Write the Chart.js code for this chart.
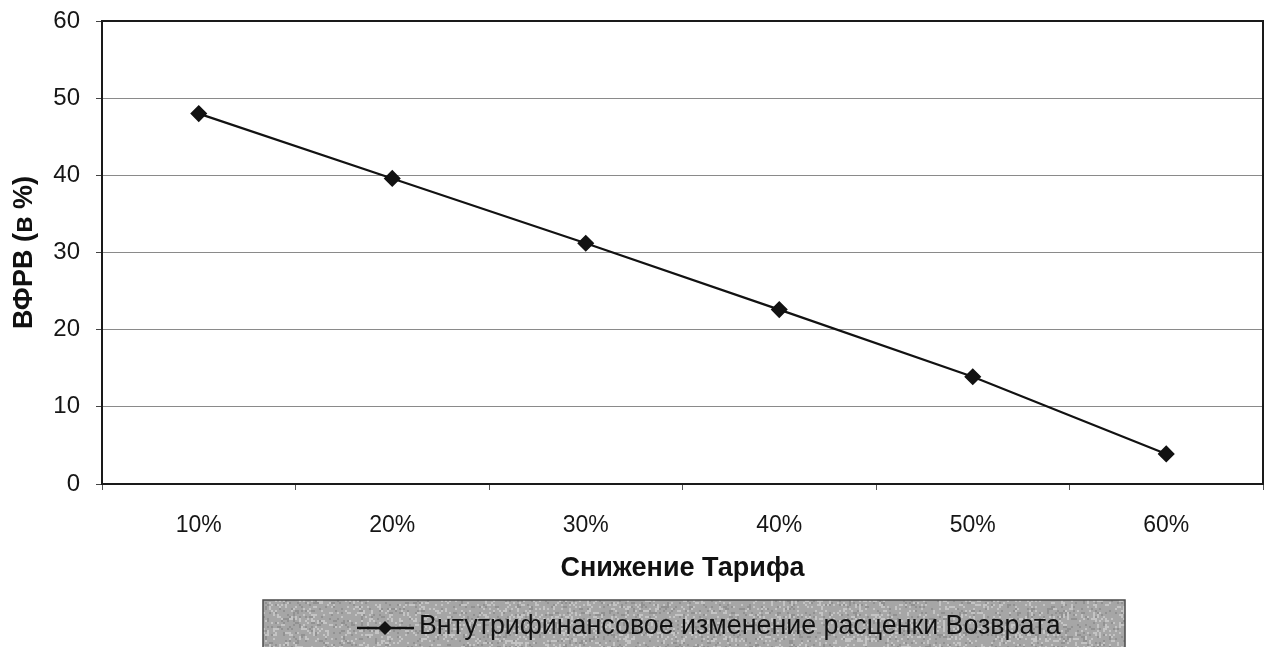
<!DOCTYPE html>
<html lang="ru">
<head>
<meta charset="utf-8">
<title>ВФРВ и снижение тарифа</title>
<script src="https://cdn.jsdelivr.net/npm/chart.js@4.4.1/dist/chart.umd.min.js"></script>
<style>
  html, body { margin: 0; padding: 0; background: #ffffff; }
  canvas { display: block; }
</style>
</head>
<body>
<canvas id="chart" width="1265" height="647"></canvas>
<script>
// Tariff reduction steps (x axis) and the resulting IRR change (y axis, %)
const categories = ['10%', '20%', '30%', '40%', '50%', '60%'];
const returnValues = [48.0, 39.6, 31.2, 22.6, 13.9, 3.9];
const seriesLabel = 'Внтутрифинансовое изменение расценки Возврата';
const xTitle = 'Снижение Тарифа';
const yTitle = 'ВФРВ (в %)';
const yMin = 0, yMax = 60, yStep = 10;

const FONT = '"Liberation Sans", Arial, sans-serif';
const INK = '#121212';

// Closed frame around the plotting area
const plotFrame = {
  id: 'plotFrame',
  beforeDatasetsDraw(chart) {
    const { ctx, chartArea: a } = chart;
    ctx.save();
    ctx.strokeStyle = '#1a1a1a';
    ctx.lineWidth = 2;
    ctx.strokeRect(a.left, a.top, a.right - a.left, a.bottom - a.top);
    ctx.restore();
  }
};

// Fine speckle for the grey legend panel (deterministic hash, no randomness)
function speckle(ix, iy) {
  let h = (ix * 374761393 + iy * 668265263) | 0;
  h = (h ^ (h >>> 13)) * 1274126177 | 0;
  return ((h ^ (h >>> 16)) >>> 0) / 4294967295;
}

// Boxed legend on a grey panel: line sample with a diamond, then the series name
const boxedLegend = {
  id: 'boxedLegend',
  afterDraw(chart) {
    const { ctx } = chart;
    const ds = chart.data.datasets[0];
    const box = { x: 263, y: 600, w: 862, h: 50 };
    ctx.save();
    ctx.fillStyle = '#a6a6a6';
    ctx.fillRect(box.x, box.y, box.w, box.h);
    for (let yy = box.y; yy < box.y + box.h; yy += 2) {
      for (let xx = box.x; xx < box.x + box.w; xx += 2) {
        const v = speckle(xx, yy);
        if (v > 0.82) {
          ctx.fillStyle = 'rgba(220,220,220,0.55)';
          ctx.fillRect(xx, yy, 2, 2);
        } else if (v < 0.12) {
          ctx.fillStyle = 'rgba(120,120,120,0.45)';
          ctx.fillRect(xx, yy, 2, 2);
        }
      }
    }
    ctx.strokeStyle = '#4a4a4a';
    ctx.lineWidth = 1.5;
    ctx.strokeRect(box.x, box.y, box.w, box.h);

    const cy = 628;
    ctx.strokeStyle = ds.borderColor;
    ctx.lineWidth = 2.5;
    ctx.beginPath();
    ctx.moveTo(357, cy);
    ctx.lineTo(414, cy);
    ctx.stroke();
    ctx.fillStyle = ds.pointBackgroundColor;
    const r = 7;
    ctx.beginPath();
    ctx.moveTo(385, cy - r);
    ctx.lineTo(385 + r, cy);
    ctx.lineTo(385, cy + r);
    ctx.lineTo(385 - r, cy);
    ctx.closePath();
    ctx.fill();

    ctx.fillStyle = '#111111';
    ctx.font = '26.8px ' + FONT;
    ctx.textBaseline = 'middle';
    ctx.textAlign = 'left';
    ctx.fillText(ds.label, 419, cy - 1);
    ctx.restore();
  }
};

new Chart(document.getElementById('chart'), {
  type: 'line',
  data: {
    labels: categories,
    datasets: [{
      label: seriesLabel,
      data: returnValues,
      borderColor: INK,
      borderWidth: 2.2,
      pointStyle: 'rectRot',
      pointRadius: 7.5,
      pointHoverRadius: 7.5,
      pointBackgroundColor: INK,
      pointBorderColor: INK,
      pointBorderWidth: 1.5,
      tension: 0,
      fill: false
    }]
  },
  options: {
    responsive: false,
    animation: false,
    events: [],
    layout: { autoPadding: false, padding: { top: 21, right: 2, bottom: 57, left: 0 } },
    plugins: {
      legend: { display: false },
      tooltip: { enabled: false },
      title: { display: false }
    },
    scales: {
      x: {
        type: 'category',
        offset: true,
        afterFit(scale) {
          scale.height = 106;
          scale.paddingLeft = 0;
          scale.paddingRight = 0;
        },
        grid: {
          offset: true,
          drawOnChartArea: false,
          drawTicks: true,
          tickLength: 6,
          tickColor: '#555555',
          tickWidth: 1
        },
        border: { display: true, color: '#1a1a1a', width: 2 },
        ticks: {
          color: '#161616',
          padding: 22,
          font: { family: FONT, size: 23 },
          maxRotation: 0
        },
        title: {
          display: true,
          text: xTitle,
          color: '#111111',
          font: { family: FONT, size: 27, weight: 'bold' },
          padding: { top: 0, bottom: 5 }
        }
      },
      y: {
        min: yMin,
        max: yMax,
        afterFit(scale) {
          scale.width = 102;
          scale.paddingTop = 0;
          scale.paddingBottom = 0;
        },
        grid: {
          color: '#8a8a8a',
          lineWidth: 1,
          drawTicks: true,
          tickLength: 6,
          tickColor: '#444444'
        },
        border: { display: true, color: '#1a1a1a', width: 2 },
        ticks: {
          stepSize: yStep,
          color: '#161616',
          padding: 16,
          font: { family: FONT, size: 24 }
        },
        title: {
          display: true,
          text: yTitle,
          color: '#111111',
          font: { family: FONT, size: 27, weight: 'bold' },
          padding: { top: 8, bottom: 0 }
        }
      }
    }
  },
  plugins: [plotFrame, boxedLegend]
});
</script>
</body>
</html>
